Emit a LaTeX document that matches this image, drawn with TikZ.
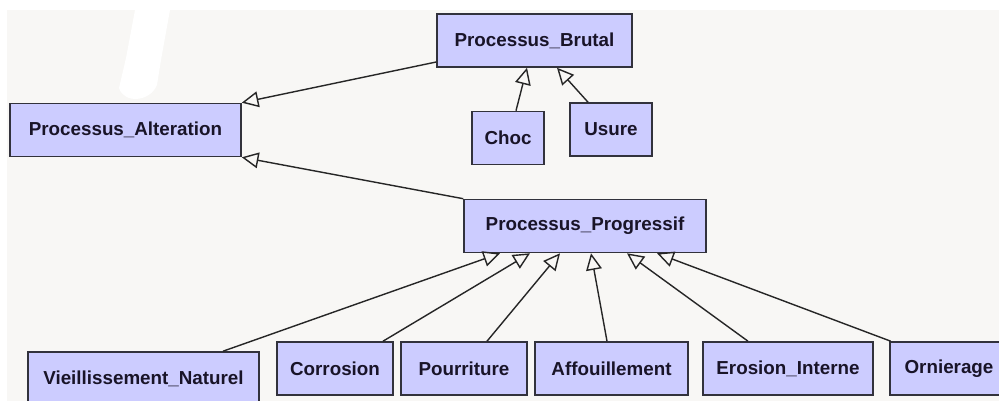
\documentclass[tikz,border=0pt]{standalone}
\usepackage{fontspec}
\setmainfont{Liberation Sans}
\usetikzlibrary{arrows.meta,calc}
\definecolor{boxfill}{RGB}{204,204,255}
\definecolor{boxline}{RGB}{50,50,60}
\definecolor{bggray}{RGB}{248,247,245}
\definecolor{textdark}{RGB}{25,20,40}

\begin{document}
\begin{tikzpicture}[x=0.02cm,y=-0.02cm,
    cls/.style={draw=boxline,fill=boxfill,line width=0.9pt,inner sep=0pt,
        minimum height=1.06cm,text=textdark,font=\bfseries\fontsize{10.7}{12}\selectfont},
    gen/.style={draw=black!85,line width=0.8pt,-{Triangle[open,length=9.5pt,width=9pt,fill=bggray]}}]
\useasboundingbox (0,0) rectangle (999,401);
\clip (0,0) rectangle (999,401);
\fill[white] (0,0) rectangle (999,401);
\fill[bggray] (7,10) rectangle (999,401);
\fill[white] (135,10) -- (170,10) -- (161,60) -- (157,85) .. controls (150,102) and (124,104) .. (119,88) -- (126,58) -- cycle;
% top group
\node[cls,minimum width=3.9cm] (brutal) at (534.5,40.5) {Processus\_Brutal};
\node[cls,minimum width=1.44cm] (choc) at (508,138) {Choc};
\node[cls,minimum width=1.64cm] (usure) at (611,129.5) {Usure};
\node[cls,minimum width=4.62cm] (alteration) at (125.5,130) {Processus\_Alteration};
\node[cls,minimum width=4.84cm] (progressif) at (585,226) {Processus\_Progressif};
% bottom row
\node[cls,minimum width=4.62cm] (vieillissement) at (143.5,378.5) {Vieillissement\_Naturel};
\node[cls,minimum width=2.32cm] (corrosion) at (335,368.5) {Corrosion};
\node[cls,minimum width=2.52cm] (pourriture) at (464,368.5) {Pourriture};
\node[cls,minimum width=3.06cm] (affouillement) at (611.5,368.5) {Affouillement};
\node[cls,minimum width=3.4cm] (erosion) at (788,368.5) {Erosion\_Interne};
\node[cls,minimum width=2.36cm] (ornierage) at (949,368.5) {Ornierage};
% generalisations
\draw[gen] ([yshift=-0.43cm]brutal.west) -- (alteration.north east);
\draw[gen] (progressif.north west) -- (alteration.south east);
\draw[gen] ([xshift=0.16cm]choc.north) -- ([xshift=-0.15cm]brutal.south);
\draw[gen] ([xshift=-0.46cm]usure.north) -- ([xshift=0.45cm]brutal.south);
\draw[gen] ([xshift=1.59cm]vieillissement.north) -- ([xshift=-1.7cm]progressif.south);
\draw[gen] ([xshift=0.96cm]corrosion.north) -- ([xshift=-1.1cm]progressif.south);
\draw[gen] ([xshift=0.46cm]pourriture.north) -- ([xshift=-0.5cm]progressif.south);
\draw[gen] ([xshift=-0.09cm]affouillement.north) -- ([xshift=0.12cm]progressif.south);
\draw[gen] ([xshift=-0.8cm]erosion.north) -- ([xshift=0.84cm]progressif.south);
\draw[gen] ([xshift=0.03cm]ornierage.north west) -- ([xshift=1.44cm]progressif.south);
\end{tikzpicture}
\end{document}
